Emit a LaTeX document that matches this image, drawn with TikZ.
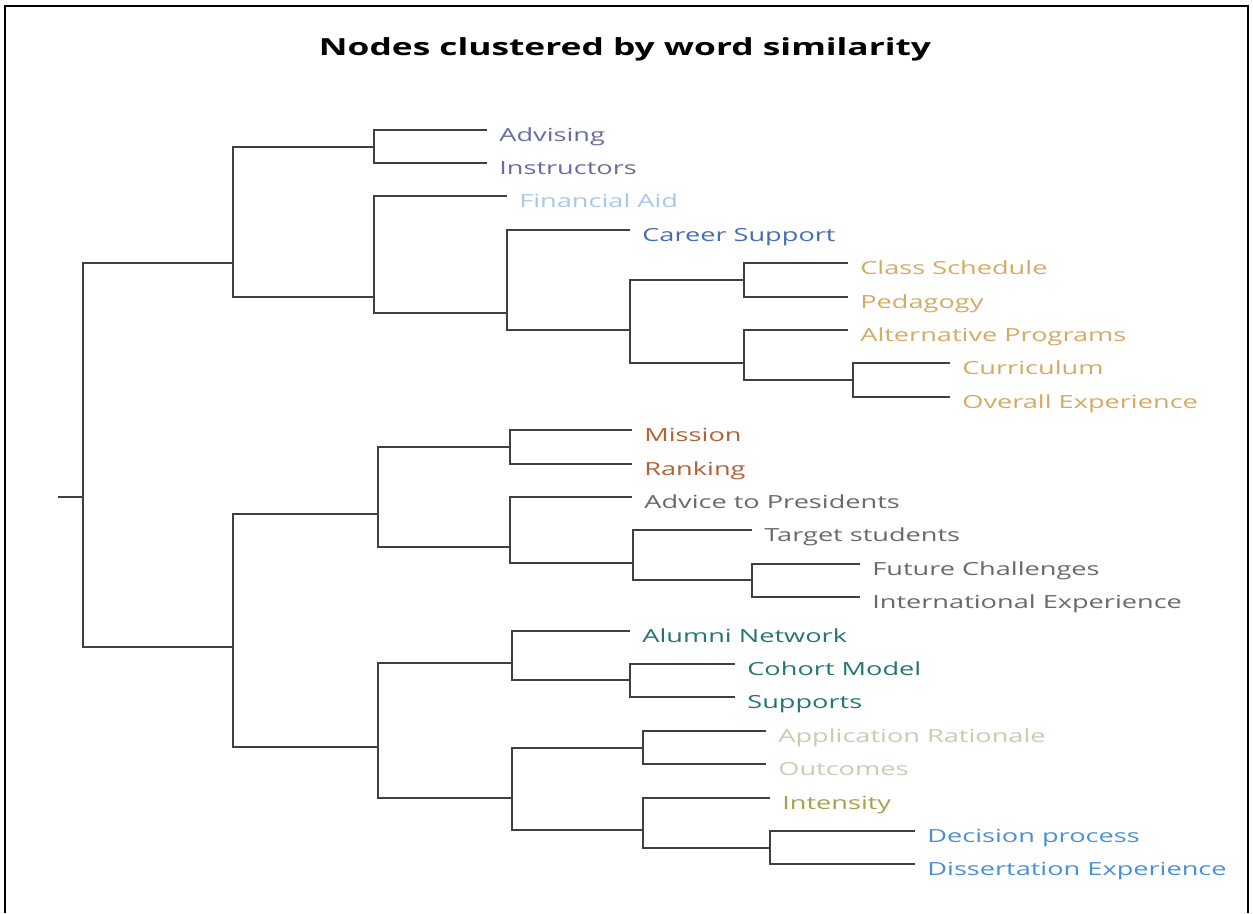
\documentclass[tikz,border=0pt]{standalone}
\usepackage{fontspec}
\setmainfont{Open Sans}[FakeStretch=1.5]
\usetikzlibrary{calc}

\definecolor{cAdv}{RGB}{104,108,160}
\definecolor{cFin}{RGB}{168,200,232}
\definecolor{cCar}{RGB}{72,108,180}
\definecolor{cGold}{RGB}{212,170,100}
\definecolor{cBrown}{RGB}{176,98,58}
\definecolor{cGray}{RGB}{105,105,105}
\definecolor{cTeal}{RGB}{38,118,112}
\definecolor{cPale}{RGB}{200,204,178}
\definecolor{cOlive}{RGB}{168,160,78}
\definecolor{cSky}{RGB}{74,144,214}

% leaf: end point of the branch line plus its label
\newcommand\leafat[5]{%
  \coordinate (#1) at (#2,#3);
  \node[leaf=#4] (#1-t) at ($(#1)+(12,11)$) {#5};}

\begin{document}
\begin{tikzpicture}[x=0.02cm,y=-0.02cm,
  branch/.style={draw=black!75, line width=1.35pt},
  leaf/.style={anchor=base west, inner sep=0pt,
    font=\fontsize{10.3pt}{12pt}\selectfont, text=#1},
  title/.style={anchor=base, inner sep=0pt,
    font=\fontsize{13.4pt}{16pt}\selectfont\bfseries}]
\useasboundingbox (0,0) rectangle (1253,913);
\fill[white] (0,0) rectangle (1253,913);
\draw[line width=1.2pt] (5,913) -- (5,6) -- (1248,6) -- (1248,913);

\node[title] (title) at (625,55) {Nodes clustered by word similarity};

% internal nodes (x of the fork, y where the parent attaches)
\coordinate (stub) at (58,497);
\coordinate (root) at (83,497);
\coordinate (A)  at (233,263);
\coordinate (A1) at (374,147);
\coordinate (A2) at (374,297);
\coordinate (CS) at (507,313);
\coordinate (O)  at (630,330);
\coordinate (O1) at (744,280);
\coordinate (O2) at (744,363);
\coordinate (O3) at (853,380);
\coordinate (BC) at (233,647);
\coordinate (B)  at (378,514);
\coordinate (B1) at (510,447);
\coordinate (B2) at (510,547);
\coordinate (B3) at (633,563);
\coordinate (B4) at (752,580);
\coordinate (C)  at (378,747);
\coordinate (C1) at (512,663);
\coordinate (C3) at (630,680);
\coordinate (C2) at (512,798);
\coordinate (C4) at (643,748);
\coordinate (C5) at (643,830);
\coordinate (C6) at (770,848);

% leaves
\leafat{advising}{487}{130}{cAdv}{Advising}
\leafat{instructors}{487}{163}{cAdv}{Instructors}
\leafat{financial}{507}{196}{cFin}{Financial Aid}
\leafat{career}{630}{230}{cCar}{Career Support}
\leafat{class}{848}{263}{cGold}{Class Schedule}
\leafat{pedagogy}{848}{297}{cGold}{Pedagogy}
\leafat{alternative}{848}{330}{cGold}{Alternative Programs}
\leafat{curriculum}{950}{363}{cGold}{Curriculum}
\leafat{overall}{950}{397}{cGold}{Overall Experience}
\leafat{mission}{632}{430}{cBrown}{Mission}
\leafat{ranking}{632}{464}{cBrown}{Ranking}
\leafat{advice}{632}{497}{cGray}{Advice to Presidents}
\leafat{target}{752}{530}{cGray}{Target students}
\leafat{future}{860}{564}{cGray}{Future Challenges}
\leafat{international}{860}{597}{cGray}{International Experience}
\leafat{alumni}{630}{631}{cTeal}{Alumni Network}
\leafat{cohort}{735}{664}{cTeal}{Cohort Model}
\leafat{supports}{735}{697}{cTeal}{Supports}
\leafat{application}{766}{731}{cPale}{Application Rationale}
\leafat{outcomes}{766}{764}{cPale}{Outcomes}
\leafat{intensity}{770}{798}{cOlive}{Intensity}
\leafat{decision}{915}{831}{cSky}{Decision process}
\leafat{dissertation}{915}{864}{cSky}{Dissertation Experience}

% branches
\draw[branch] (stub) -- (root);
\draw[branch] (root) |- (A)  (root) |- (BC);
\draw[branch] (A) |- (A1)  (A) |- (A2);
\draw[branch] (A1) |- (advising)  (A1) |- (instructors);
\draw[branch] (A2) |- (financial)  (A2) |- (CS);
\draw[branch] (CS) |- (career)  (CS) |- (O);
\draw[branch] (O) |- (O1)  (O) |- (O2);
\draw[branch] (O1) |- (class)  (O1) |- (pedagogy);
\draw[branch] (O2) |- (alternative)  (O2) |- (O3);
\draw[branch] (O3) |- (curriculum)  (O3) |- (overall);
\draw[branch] (BC) |- (B)  (BC) |- (C);
\draw[branch] (B) |- (B1)  (B) |- (B2);
\draw[branch] (B1) |- (mission)  (B1) |- (ranking);
\draw[branch] (B2) |- (advice)  (B2) |- (B3);
\draw[branch] (B3) |- (target)  (B3) |- (B4);
\draw[branch] (B4) |- (future)  (B4) |- (international);
\draw[branch] (C) |- (C1)  (C) |- (C2);
\draw[branch] (C1) |- (alumni)  (C1) |- (C3);
\draw[branch] (C3) |- (cohort)  (C3) |- (supports);
\draw[branch] (C2) |- (C4)  (C2) |- (C5);
\draw[branch] (C4) |- (application)  (C4) |- (outcomes);
\draw[branch] (C5) |- (intensity)  (C5) |- (C6);
\draw[branch] (C6) |- (decision)  (C6) |- (dissertation);
\end{tikzpicture}
\end{document}
